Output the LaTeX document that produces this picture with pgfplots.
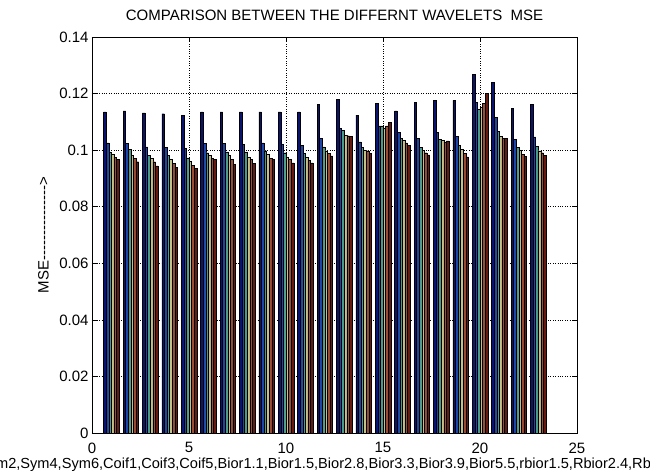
\documentclass[border=0pt]{standalone}
\usepackage{fontspec}
\setmainfont{Liberation Sans}
\usepackage{pgfplots}
\usepackage{pgfplotstable}
\pgfplotsset{compat=1.18}
\definecolor{c1}{HTML}{0A1470}
\definecolor{c2}{HTML}{1E46A8}
\definecolor{c3}{HTML}{4A9A8C}
\definecolor{c4}{HTML}{C4C08A}
\definecolor{c5}{HTML}{9A4E38}
\definecolor{c6}{HTML}{661A12}
\newcommand\hy{-\kern0pt}
\pgfplotstableread{
g a b c d e f
1 0.1135 0.1026 0.0994 0.0986 0.0974 0.0967
2 0.1139 0.1024 0.1002 0.0982 0.0971 0.0959
3 0.1132 0.1012 0.0982 0.0971 0.0959 0.0944
4 0.1129 0.1010 0.0982 0.0967 0.0953 0.0939
5 0.1124 0.1006 0.0973 0.0961 0.0947 0.0935
6 0.1135 0.1024 0.0991 0.0982 0.0971 0.0968
7 0.1135 0.1024 0.0994 0.0982 0.0968 0.0951
8 0.1135 0.1021 0.0994 0.0976 0.0967 0.0953
9 0.1135 0.1026 0.0998 0.0985 0.0971 0.0967
10 0.1135 0.1021 0.0991 0.0976 0.0967 0.0955
11 0.1135 0.1018 0.0988 0.0974 0.0965 0.0955
12 0.1161 0.1041 0.1012 0.0998 0.0988 0.0980
13 0.1180 0.1078 0.1071 0.1053 0.1051 0.1050
14 0.1124 0.1029 0.1009 0.1000 0.0998 0.0988
15 0.1165 0.1086 0.1086 0.1076 0.1086 0.1099
16 0.1139 0.1062 0.1041 0.1035 0.1026 0.1016
17 0.1168 0.1041 0.1009 0.1000 0.0991 0.0983
18 0.1176 0.1062 0.1038 0.1035 0.1029 0.1033
19 0.1176 0.1049 0.1018 0.1002 0.0988 0.0976
20 0.1267 0.1168 0.1144 0.1151 0.1165 0.1200
21 0.1239 0.1115 0.1067 0.1049 0.1041 0.1041
22 0.1147 0.1039 0.1009 0.1000 0.0986 0.0979
23 0.1161 0.1047 0.1014 0.0998 0.0991 0.0982
}\mse
\begin{document}
\begin{tikzpicture}[x=1pt,y=1pt]
\useasboundingbox (0,0) rectangle (650,475);
\begin{axis}[
  at={(92pt,42pt)}, anchor=south west,
  scale only axis, width=485pt, height=396pt,
  xmin=0, xmax=25, ymin=0, ymax=0.14,
  xtick={0,5,10,15,20,25},
  ytick={0,0.02,0.04,0.06,0.08,0.1,0.12,0.14},
  grid=major, major grid style={black, dotted, line width=0.6pt},
  tick align=inside, major tick length=5pt,
  tick style={black, line width=0.5pt},
  axis line style={black, line width=0.6pt},
  scaled y ticks=false,
  /pgf/number format/assume math mode=true,
  yticklabel style={/pgf/number format/fixed, /pgf/number format/precision=2},
  xticklabel style={yshift=-6pt},
  ticklabel style={font=\fontsize{15}{17}\selectfont},
  title={COMPARISON BETWEEN THE DIFFERNT WAVELETS\ \ MSE},
  title style={font=\fontsize{15}{17}\selectfont, at={(axis description cs:0.5,1)}, anchor=center, yshift=16pt},
  xlabel={Haar,Db2,Db4,Db6,Db8,Sym2,Sym4,Sym6,Coif1,Coif3,Coif5,Bior1.1,Bior1.5,Bior2.8,Bior3.3,Bior3.9,Bior5.5,rbior1.5,Rbior2.4,Rbior3.3,Rbior3.9,Rbior5.5,Dmey},
  xlabel style={font=\fontsize{14.6}{17}\selectfont, at={(axis description cs:0.5,0)}, anchor=center, yshift=-32pt, xshift=0pt},
  ylabel={MSE\hy\hy\hy\hy\hy\hy\hy\hy\hy\hy\hy\hy\hy\hy\hy>},
  ylabel style={font=\fontsize{15}{17}\selectfont, at={(axis description cs:-0.1,0.5)}, anchor=center},
  every axis plot/.append style={ybar, bar width=0.13333, draw=black, line width=0.3pt},
]
\addplot[fill=c1, bar shift=-0.33333] table[x=g,y=a]{\mse};
\addplot[fill=c2, bar shift=-0.2] table[x=g,y=b]{\mse};
\addplot[fill=c3, bar shift=-0.06667] table[x=g,y=c]{\mse};
\addplot[fill=c4, bar shift=0.06667] table[x=g,y=d]{\mse};
\addplot[fill=c5, bar shift=0.2] table[x=g,y=e]{\mse};
\addplot[fill=c6, bar shift=0.33333] table[x=g,y=f]{\mse};
\end{axis}
\end{tikzpicture}
\end{document}
